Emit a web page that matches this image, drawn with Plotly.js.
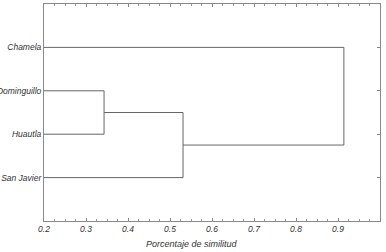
<!DOCTYPE html>
<html><head><meta charset="utf-8">
<script src="https://cdn.plot.ly/plotly-3.0.1.min.js"></script>
<style>html,body{margin:0;padding:0;background:#fff}#c{width:386px;height:252px}</style>
</head><body><div id="c"></div>
<script>
// Leaves (top to bottom)
const leaves = ['Chamela', 'Dominguillo', 'Huautla', 'San Javier'];
// Merges: left child, right child, similarity level
const mergeLeft = ['Dominguillo', 'm0', 'Chamela'];
const mergeRight = ['Huautla', 'San Javier', 'm1'];
const mergeHeights = [0.343, 0.531, 0.914];
const xTicks = [0.2, 0.3, 0.4, 0.5, 0.6, 0.7, 0.8, 0.9, 1.0];
const xTickText = ['0.2', '0.3', '0.4', '0.5', '0.6', '0.7', '0.8', '0.9', '1.0'];
const xTitle = 'Porcentaje de similitud';
const xStart = 0.2;

// Build dendrogram segments
const pos = {};
leaves.forEach((l, i) => { pos[l] = {y: i + 1, x: xStart}; });
const xs = [], ys = [];
mergeHeights.forEach((h, i) => {
  const a = pos[mergeLeft[i]], b = pos[mergeRight[i]];
  xs.push(a.x, h, h, b.x, null);
  ys.push(a.y, a.y, b.y, b.y, null);
  pos['m' + i] = {y: (a.y + b.y) / 2, x: h};
});

const font = {family: 'Liberation Sans, Arial, sans-serif', size: 8.5, color: '#333', style: 'italic'};
const tfont = {family: 'Liberation Sans, Arial, sans-serif', size: 9, color: '#333', style: 'italic'};
const traces = [
  {x: xs, y: ys, mode: 'lines', line: {color: '#666', width: 1}, hoverinfo: 'skip', showlegend: false},
  {x: [xStart], y: [1], mode: 'markers', marker: {opacity: 0}, yaxis: 'y2', hoverinfo: 'skip', showlegend: false}
];
const layout = {
  width: 386, height: 252,
  margin: {l: 44, r: 6, t: 4, b: 31},
  paper_bgcolor: '#fff', plot_bgcolor: '#fff',
  showlegend: false,
  xaxis: {
    range: [0.2, 1.0], tickvals: xTicks, ticktext: xTickText,
    ticks: 'inside', ticklen: 3, tickcolor: '#888', tickwidth: 1,
    minor: {dtick: 0.025, tick0: 0.2, ticks: 'inside', ticklen: 2, tickcolor: '#999', showgrid: false},
    showline: true, linecolor: '#888', linewidth: 1, mirror: 'ticks',
    showgrid: false, zeroline: false, tickfont: font
  },
  yaxis: {
    range: [5, 0], tickvals: [1, 2, 3, 4], ticktext: leaves,
    ticks: '', showline: true, linecolor: '#888', linewidth: 1, mirror: true,
    showgrid: false, zeroline: false, tickfont: font, ticklabelstandoff: 0
  },
  yaxis2: {
    range: [5, 0], overlaying: 'y', side: 'right', tickvals: [1, 2, 3, 4],
    ticks: 'inside', ticklen: 3, tickcolor: '#888', showticklabels: false,
    showgrid: false, zeroline: false, showline: false
  },
  annotations: [{
    text: xTitle, xref: 'paper', yref: 'paper', x: 0.44, y: 0, yshift: -23,
    xanchor: 'center', yanchor: 'middle', showarrow: false, font: tfont
  }]
};
Plotly.newPlot('c', traces, layout, {staticPlot: true});
</script></body></html>
